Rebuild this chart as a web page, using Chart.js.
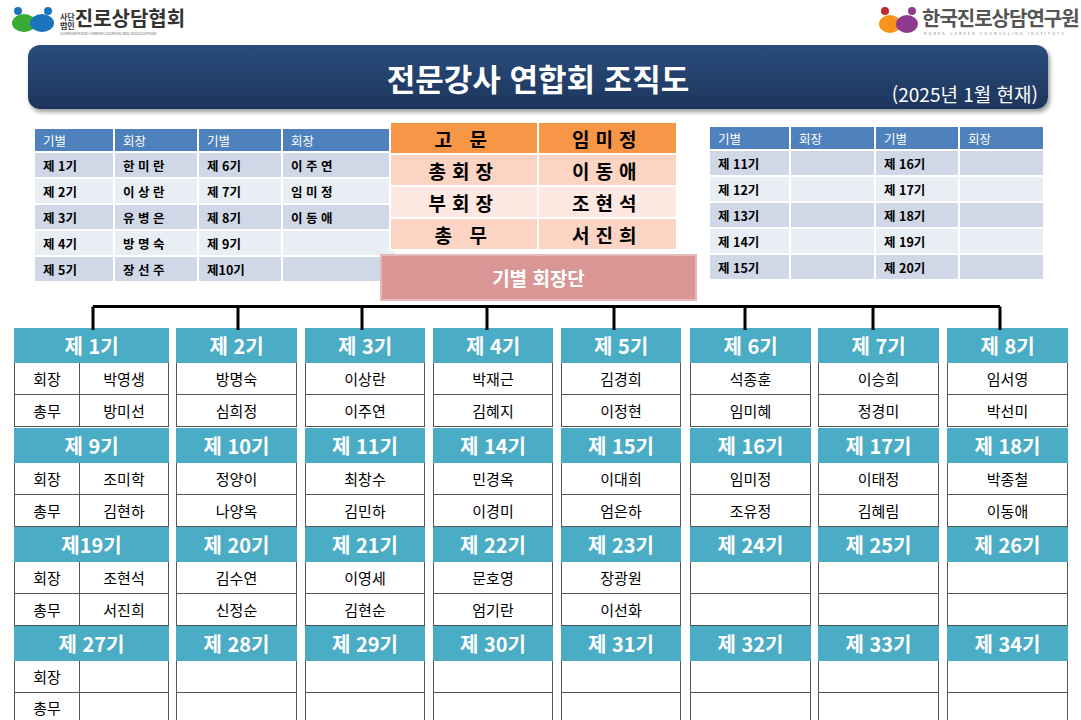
<!DOCTYPE html>
<html lang="ko">
<head>
<meta charset="UTF-8">
<title>전문강사 연합회 조직도</title>
<script src="https://cdn.jsdelivr.net/npm/chart.js"></script>
<style>
  body { margin:0; width:1081px; height:720px; background:#fff; position:relative; overflow:hidden;
         font-family:"Noto Sans CJK KR","Noto Sans",sans-serif; }
  .abs { position:absolute; }
  .title { left:28px; top:45px; width:1020px; height:64px; border-radius:12px;
           background:linear-gradient(#2b4d7d,#1c355c); box-shadow:2px 3px 4px rgba(0,0,0,.4); }
  .title h1 { margin:0; position:absolute; left:0; right:0; top:10px; text-align:center; color:#fff; font-size:31px; font-weight:700; }
  .title .sub { position:absolute; right:10px; bottom:2px; color:#fff; font-size:19px; }
  .logo { font-size:20px; font-weight:700; line-height:22px; }
  .tiny { font-size:4px; line-height:5px; white-space:nowrap; }
  table { border-collapse:collapse; position:absolute; table-layout:fixed; }
  .hist td { border:2px solid #fff; font-size:12.5px; font-weight:700; padding:0 0 0 8px; height:24px; }
  .hist tr:first-child td { background:#4f81bd; color:#fff; font-weight:400; height:22px; }
  .hist tr:nth-child(even) td { background:#d0d8e8; }
  .hist tr:nth-child(odd):not(:first-child) td { background:#e9edf4; }
  .exec td { border:2px solid #fff; text-align:center; font-size:19px; font-weight:700; height:28px; letter-spacing:6px; }
  .box { left:380px; top:254px; width:313px; height:43px; background:#d99694; border:2px solid #e6b9b8;
         color:#fff; font-size:19px; font-weight:700; text-align:center; line-height:43px; }
  .cell { position:absolute; box-sizing:border-box; font-size:15px; text-align:center; }
  .hd { background:#4bacc6; color:#fff; font-size:20px; font-weight:700; }
  .nm { background:#fff; border:1px solid #555; border-top:none; }
  #tree { position:absolute; left:0; top:296px; width:1081px; height:34px; z-index:5; }
</style>
</head>
<body>
<div class="abs" style="left:12px;top:6px;width:42px;height:30px;">
  <svg width="42" height="30"><ellipse cx="12" cy="17" rx="12" ry="9" fill="#3aaa35"/><ellipse cx="30" cy="17" rx="12" ry="9" fill="#1b75bc"/><circle cx="6" cy="5" r="4" fill="#1b75bc"/><circle cx="36" cy="5" r="4" fill="#1b75bc"/></svg>
</div>
<div class="abs logo" style="left:60px;top:7px;color:#333;"><span style="font-size:8px;display:inline-block;line-height:9px;vertical-align:middle">사단<br>법인</span>진로상담협회</div>
<div class="abs tiny" style="left:60px;top:31px;color:#666;">CORPORATION CAREER COUNSELING ASSOCIATION</div>
<div class="abs" style="left:879px;top:6px;width:40px;height:30px;">
  <svg width="40" height="30"><ellipse cx="11" cy="18" rx="11" ry="9" fill="#f7941d"/><ellipse cx="28" cy="18" rx="11" ry="9" fill="#8e3b8f"/><circle cx="6" cy="5" r="4" fill="#c1272d"/><circle cx="33" cy="5" r="4" fill="#8e3b8f"/></svg>
</div>
<div class="abs logo" style="left:922px;top:7px;color:#555;letter-spacing:-1px;">한국진로상담연구원</div>
<div class="abs tiny" style="left:924px;top:31px;color:#888;letter-spacing:2px;">KOREA CAREER COUNSELING INSTITUTE</div>

<div class="abs title"><h1>전문강사 연합회 조직도</h1><div class="sub">(2025년 1월 현재)</div></div>

<table class="hist" id="histL" style="left:33px;top:127px;width:362px;"></table>
<table class="hist" id="histR" style="left:708px;top:125px;width:335px;"></table>
<table class="exec" id="exec" style="left:389px;top:121px;width:289px;"></table>
<div class="abs box">기별 회장단</div>
<div id="grid"></div>
<canvas id="tree" width="1081" height="34"></canvas>

<script>
// 역대 회장
const pastGensL = ['제 1기','제 2기','제 3기','제 4기','제 5기'];
const pastChairsL = ['한 미 란','이 상 란','유 병 은','방 명 숙','장 선 주'];
const pastGensL2 = ['제 6기','제 7기','제 8기','제 9기','제10기'];
const pastChairsL2 = ['이 주 연','임 미 정','이 동 애','',''];
const pastGensR = ['제 11기','제 12기','제 13기','제 14기','제 15기'];
const pastGensR2 = ['제 16기','제 17기','제 18기','제 19기','제 20기'];
// 임원
const execTitles = ['고 문','총회장','부회장','총 무'];
const execNames = ['임미정','이동애','조현석','서진희'];
// 기별 회장단
const gens = ['제 1기','제 2기','제 3기','제 4기','제 5기','제 6기','제 7기','제 8기',
  '제 9기','제 10기','제 11기','제 14기','제 15기','제 16기','제 17기','제 18기',
  '제19기','제 20기','제 21기','제 22기','제 23기','제 24기','제 25기','제 26기',
  '제 27기','제 28기','제 29기','제 30기','제 31기','제 32기','제 33기','제 34기'];
const chairs = ['박영생','방명숙','이상란','박재근','김경희','석종훈','이승희','임서영',
  '조미학','정양이','최창수','민경옥','이대희','임미정','이태정','박종철',
  '조현석','김수연','이영세','문호영','장광원','','','',
  '','','','','','','',''];
const secretaries = ['방미선','심희정','이주연','김혜지','이정현','임미혜','정경미','박선미',
  '김현하','나양옥','김민하','이경미','엄은하','조유정','김혜림','이동애',
  '서진희','신정순','김현순','엄기란','이선화','','','',
  '','','','','','','',''];
// 연결선 x 위치
const dropX = [93,238,362,487,614,745,873,1000];

function fillHist(id, g1, c1, g2, c2, widths) {
  let h = '<colgroup>' + widths.map(w => `<col style="width:${w}px">`).join('') + '</colgroup>';
  h += '<tr><td>기별</td><td>회장</td><td>기별</td><td>회장</td></tr>';
  g1.forEach((g, i) => { h += `<tr><td>${g}</td><td>${c1[i]}</td><td>${g2[i]}</td><td>${c2[i]}</td></tr>`; });
  document.getElementById(id).innerHTML = h;
}
fillHist('histL', pastGensL, pastChairsL, pastGensL2, pastChairsL2, [80,84,84,114]);
fillHist('histR', pastGensR, ['','','','',''], pastGensR2, ['','','','',''], [81,85,84,85]);

let eh = '';
execTitles.forEach((t, i) => {
  const bg = i === 0 ? '#f79646' : (i % 2 ? '#fbd4c4' : '#fde9e1');
  eh += `<tr><td style="background:${bg};width:50%">${t}</td><td style="background:${bg}">${execNames[i]}</td></tr>`;
});
document.getElementById('exec').innerHTML = eh;

// grid
const colL = [14,176,305,433,561,690,818,947], colW = [155,121,120,120,120,121,121,121];
const rowTop = [328,428,527,626];
const grid = document.getElementById('grid');
gens.forEach((g, i) => {
  const c = i % 8, r = Math.floor(i / 8), x = colL[c], w = colW[c], y = rowTop[r];
  let h = `<div class="cell hd" style="left:${x}px;top:${y}px;width:${w}px;height:35px;line-height:35px">${g}</div>`;
  const rows = [chairs[i], secretaries[i]];
  const labels = ['회장','총무'];
  rows.forEach((v, k) => {
    const yy = y + 35 + k * 32, hh = (r === 3 && k === 1) ? 30 : 32;
    if (c === 0) {
      h += `<div class="cell nm" style="left:${x}px;top:${yy}px;width:65px;height:${hh}px;line-height:${hh}px;border-right:none">${labels[k]}</div>`;
      h += `<div class="cell nm" style="left:${x+65}px;top:${yy}px;width:${w-65}px;height:${hh}px;line-height:${hh}px">${v}</div>`;
    } else {
      h += `<div class="cell nm" style="left:${x}px;top:${yy}px;width:${w}px;height:${hh}px;line-height:${hh}px">${v}</div>`;
    }
  });
  grid.insertAdjacentHTML('beforeend', h);
});

// 연결선 (Chart.js)
const lineDs = [{ data: [{x:dropX[0], y:1}, {x:dropX[dropX.length-1], y:1}] }];
dropX.forEach(x => lineDs.push({ data: [{x:x, y:1}, {x:x, y:0}] }));
lineDs.forEach(d => { d.showLine = true; d.borderColor = '#000'; d.borderWidth = 3; d.pointRadius = 0; });
new Chart(document.getElementById('tree'), {
  type: 'scatter',
  data: { datasets: lineDs },
  options: {
    responsive: false, animation: false, devicePixelRatio: 1,
    layout: { padding: 0 },
    plugins: { legend: { display: false }, tooltip: { enabled: false } },
    scales: {
      x: { type: 'linear', min: 0, max: 1081, display: false },
      y: { min: 0, max: 1.45, display: false }
    }
  }
});
</script>
</body>
</html>
